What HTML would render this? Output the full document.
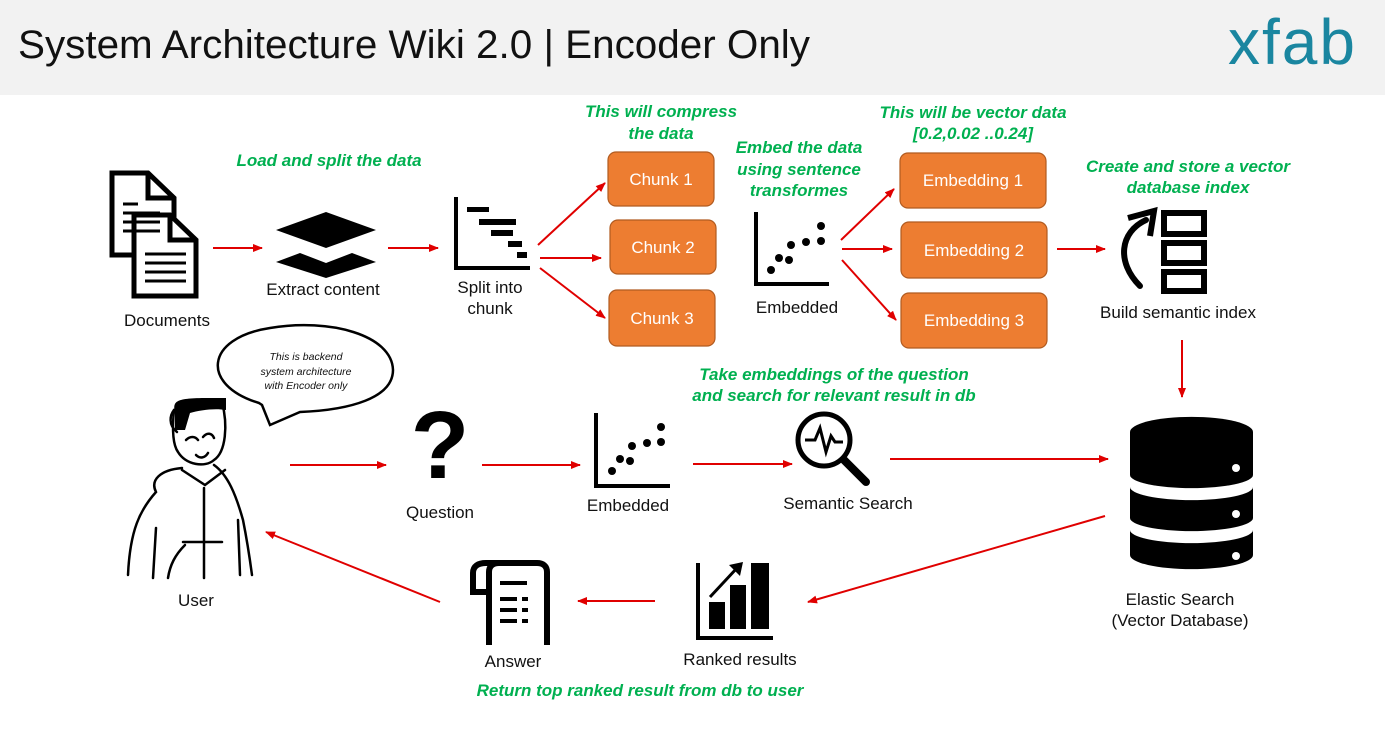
<!DOCTYPE html>
<html><head><meta charset="utf-8"><style>
body{margin:0;background:#fff}
svg{display:block}
.l{font-family:"Liberation Sans",sans-serif;font-size:17px;fill:#111;text-anchor:middle}
.g{font-family:"Liberation Sans",sans-serif;font-size:17px;font-weight:bold;font-style:italic;fill:#00b050;text-anchor:middle}
.b{font-family:"Liberation Sans",sans-serif;font-size:17px;fill:#fff;text-anchor:middle}
.a{stroke:#e00000;stroke-width:2;fill:none;marker-end:url(#ah)}
</style></head><body>
<svg width="1385" height="731" viewBox="0 0 1385 731" xmlns="http://www.w3.org/2000/svg">
<defs><marker id="ah" markerWidth="10" markerHeight="8" refX="9" refY="4" orient="auto" markerUnits="userSpaceOnUse"><path d="M0,0 L10,4 L0,8 z" fill="#e00000"/></marker></defs>
<rect x="0" y="0" width="1385" height="95" fill="#f2f2f2"/>
<text x="18" y="58" font-family="Liberation Sans,sans-serif" font-size="40" fill="#111" textLength="792" lengthAdjust="spacingAndGlyphs">System Architecture Wiki 2.0 | Encoder Only</text>
<text x="1228" y="64" font-family="Liberation Sans,sans-serif" font-size="64" fill="#1a86a0" letter-spacing="2">xfab</text>

<!-- green notes -->
<text class="g" x="329" y="166">Load and split the data</text>
<text class="g" x="661" y="117">This will compress</text><text class="g" x="661" y="139">the data</text>
<text class="g" x="799" y="153">Embed the data</text><text class="g" x="799" y="175">using sentence</text><text class="g" x="799" y="196">transformes</text>
<text class="g" x="973" y="118">This will be vector data</text><text class="g" x="973" y="139">[0.2,0.02 ..0.24]</text>
<text class="g" x="1188" y="172">Create and store a vector</text><text class="g" x="1188" y="193">database index</text>
<text class="g" x="834" y="380">Take embeddings of the question</text><text class="g" x="834" y="401">and search for relevant result in db</text>
<text class="g" x="640" y="696">Return top ranked result from db to user</text>

<!-- documents -->
<g fill="#fff" stroke="#000" stroke-width="5">
<path d="M112,173 H148 L174,198 V255 H112 Z"/>
<path d="M134,215 H170 L196,240 V296 H134 Z"/>
</g>
<path d="M148,173 V198 H174" fill="none" stroke="#000" stroke-width="5"/>
<path d="M170,215 V240 H196" fill="none" stroke="#000" stroke-width="5"/>
<g stroke="#000" stroke-width="3"><line x1="123" y1="204" x2="138" y2="204"/><line x1="123" y1="213" x2="160" y2="213"/><line x1="123" y1="222" x2="160" y2="222"/><line x1="123" y1="231" x2="160" y2="231"/><line x1="145" y1="254" x2="186" y2="254"/><line x1="145" y1="263" x2="186" y2="263"/><line x1="145" y1="272" x2="186" y2="272"/><line x1="145" y1="281" x2="186" y2="281"/></g>
<text class="l" x="167" y="326">Documents</text>
<line class="a" x1="213" y1="248" x2="262" y2="248"/>
<!-- extract -->
<path d="M276,230 L326,212 L376,230 L326,248 Z M276,262 L300,253 L326,263 L352,253 L376,262 L326,278 Z" fill="#000"/>
<text class="l" x="323" y="295">Extract content</text>
<line class="a" x1="388" y1="248" x2="438" y2="248"/>
<!-- split -->
<path d="M456,197 V268 H530" fill="none" stroke="#000" stroke-width="4"/>
<g fill="#000"><rect x="467" y="207" width="22" height="5"/><rect x="479" y="219" width="37" height="6"/><rect x="491" y="230" width="22" height="6"/><rect x="508" y="241" width="14" height="6"/><rect x="517" y="252" width="10" height="6"/></g>
<text class="l" x="490" y="293">Split into</text><text class="l" x="490" y="314">chunk</text>
<line class="a" x1="538" y1="245" x2="605" y2="183"/>
<line class="a" x1="540" y1="258" x2="601" y2="258"/>
<line class="a" x1="540" y1="268" x2="605" y2="318"/>
<!-- chunks -->
<g fill="#ed7d31" stroke="#b15b20" stroke-width="1.2">
<rect x="608" y="152" width="106" height="54" rx="8"/><rect x="610" y="220" width="106" height="54" rx="8"/><rect x="609" y="290" width="106" height="56" rx="8"/>
<rect x="900" y="153" width="146" height="55" rx="8"/><rect x="901" y="222" width="146" height="56" rx="8"/><rect x="901" y="293" width="146" height="55" rx="8"/>
</g>
<text class="b" x="661" y="185">Chunk 1</text><text class="b" x="663" y="253">Chunk 2</text><text class="b" x="662" y="324">Chunk 3</text>
<text class="b" x="973" y="186">Embedding 1</text><text class="b" x="974" y="256">Embedding 2</text><text class="b" x="974" y="326">Embedding 3</text>
<!-- embedded 1 -->
<path d="M756,212 V284 H829" fill="none" stroke="#000" stroke-width="4"/>
<g fill="#000"><circle cx="771" cy="270" r="4"/><circle cx="779" cy="258" r="4"/><circle cx="789" cy="260" r="4"/><circle cx="791" cy="245" r="4"/><circle cx="806" cy="242" r="4"/><circle cx="821" cy="241" r="4"/><circle cx="821" cy="226" r="4"/></g>
<text class="l" x="797" y="313">Embedded</text>
<line class="a" x1="841" y1="240" x2="894" y2="189"/>
<line class="a" x1="842" y1="249" x2="892" y2="249"/>
<line class="a" x1="842" y1="260" x2="896" y2="320"/>
<line class="a" x1="1057" y1="249" x2="1105" y2="249"/>
<!-- build index -->
<path d="M1140,286 C1116,262 1120,232 1146,220" fill="none" stroke="#000" stroke-width="6" stroke-linecap="round"/>
<path d="M1128,218 L1154,211 L1150,236" fill="none" stroke="#000" stroke-width="6"/>
<g fill="none" stroke="#000" stroke-width="6"><rect x="1164" y="213" width="40" height="21"/><rect x="1164" y="243" width="40" height="20"/><rect x="1164" y="272" width="40" height="19"/></g>
<text class="l" x="1178" y="318">Build semantic index</text>
<line class="a" x1="1182" y1="340" x2="1182" y2="397"/>
<!-- database -->
<g fill="#000">
<path d="M1130,432 A61,15 0 0 1 1253,432 V475 A61,13 0 0 1 1130,475 Z"/>
<path d="M1130,487 A61,13 0 0 0 1253,487 V518 A61,13 0 0 1 1130,518 Z"/>
<path d="M1130,530 A61,13 0 0 0 1253,530 V555 A61,14 0 0 1 1130,555 Z"/>
</g>
<g fill="#fff"><circle cx="1236" cy="468" r="4"/><circle cx="1236" cy="514" r="4"/><circle cx="1236" cy="556" r="4"/></g>
<text class="l" x="1180" y="605">Elastic Search</text><text class="l" x="1180" y="626">(Vector Database)</text>
<!-- speech bubble & user -->
<path d="M259,403 C200,385 205,338 270,328 C330,318 392,335 393,370 C393,398 350,410 300,412 L270,425 L262,405 Z" fill="#fff" stroke="#000" stroke-width="2.5"/>
<g font-family="Liberation Sans,sans-serif" font-size="10.5" font-style="italic" fill="#111" text-anchor="middle"><text x="306" y="360">This is backend</text><text x="306" y="375">system architecture</text><text x="306" y="389">with Encoder only</text></g>
<g fill="none" stroke="#000" stroke-width="2.5" stroke-linecap="round">
<path d="M174,410 C172,430 173,445 178,452 C186,465 205,468 214,460 C226,452 228,425 222,402"/>
<path d="M174,410 C170,415 168,425 177,432"/>
<path d="M182,468 C160,470 150,480 156,492 C140,510 130,530 128,575"/>
<path d="M214,465 C228,475 236,495 243,520 C247,540 250,560 252,575"/>
<path d="M182,470 L205,485 L225,470"/>
<path d="M204,488 V578"/><path d="M183,542 H222"/>
<path d="M156,528 L153,578"/><path d="M238,520 L240,575"/>
<path d="M185,545 C175,555 170,565 168,578"/>
<path d="M186,440 C190,436 195,436 198,440"/><path d="M203,437 C207,432 212,433 214,438"/>
<path d="M196,455 C200,459 205,458 208,453"/>
</g>
<path d="M175,412 C172,400 178,398 210,398 H226 V410 C215,408 200,410 190,413 L185,430 L175,430 Z" fill="#000"/>
<text class="l" x="196" y="606">User</text>
<line class="a" x1="290" y1="465" x2="386" y2="465"/>
<!-- question -->
<text x="440" y="478" font-family="Liberation Sans,sans-serif" font-size="96" font-weight="bold" text-anchor="middle" fill="#000">?</text>
<text class="l" x="440" y="518">Question</text>
<line class="a" x1="482" y1="465" x2="580" y2="465"/>
<!-- embedded 2 -->
<path d="M596,413 V486 H670" fill="none" stroke="#000" stroke-width="4"/>
<g fill="#000"><circle cx="612" cy="471" r="4"/><circle cx="620" cy="459" r="4"/><circle cx="630" cy="461" r="4"/><circle cx="632" cy="446" r="4"/><circle cx="647" cy="443" r="4"/><circle cx="661" cy="442" r="4"/><circle cx="661" cy="427" r="4"/></g>
<text class="l" x="628" y="511">Embedded</text>
<line class="a" x1="693" y1="464" x2="792" y2="464"/>
<!-- semantic search -->
<circle cx="824" cy="440" r="26" fill="none" stroke="#000" stroke-width="5"/>
<line x1="844" y1="460" x2="866" y2="482" stroke="#000" stroke-width="8" stroke-linecap="round"/>
<path d="M805,440 H815 L820,428 L826,452 L831,436 L835,442 H843" fill="none" stroke="#000" stroke-width="3"/>
<text class="l" x="848" y="509">Semantic Search</text>
<line class="a" x1="890" y1="459" x2="1108" y2="459"/>
<line class="a" x1="1105" y1="516" x2="808" y2="602"/>
<!-- ranked -->
<path d="M698,563 V638 H773" fill="none" stroke="#000" stroke-width="4"/>
<g fill="#000"><rect x="709" y="602" width="16" height="27"/><rect x="730" y="585" width="16" height="44"/><rect x="751" y="563" width="18" height="66"/></g>
<path d="M710,597 L737,568" stroke="#000" stroke-width="3"/><path d="M729,565 L743,562 L740,576 Z" fill="#000"/>
<text class="l" x="740" y="665">Ranked results</text>
<line class="a" x1="655" y1="601" x2="578" y2="601"/>
<!-- answer -->
<path d="M489,645 V572 C489,566 493,563 499,563 H537 C543,563 547,566 547,572 V645 M489,592 H473 V573 C473,566 478,563 486,563 H500" fill="none" stroke="#000" stroke-width="6"/>
<g fill="#000"><rect x="500" y="581" width="27" height="4"/><rect x="500" y="597" width="17" height="4"/><rect x="522" y="597" width="6" height="4"/><rect x="500" y="608" width="17" height="4"/><rect x="522" y="608" width="6" height="4"/><rect x="500" y="619" width="17" height="4"/><rect x="522" y="619" width="6" height="4"/></g>
<text class="l" x="513" y="667">Answer</text>
<line class="a" x1="440" y1="602" x2="266" y2="532"/>
</svg>
</body></html>
